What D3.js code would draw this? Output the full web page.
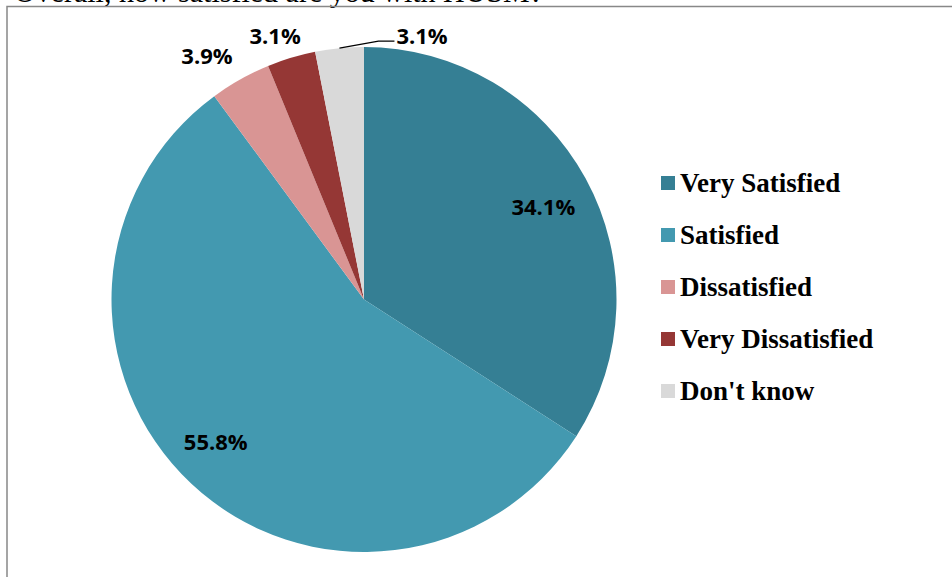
<!DOCTYPE html>
<html>
<head>
<meta charset="utf-8">
<script src="https://cdn.jsdelivr.net/npm/d3@7"></script>
<style>
  body { margin: 0; background: #fff; }
  svg { display: block; }
</style>
</head>
<body>
<svg id="chart" width="952" height="577"></svg>
<script>
// data
const categories = ['Very Satisfied', 'Satisfied', 'Dissatisfied', 'Very Dissatisfied', "Don't know"];
const values = [34.1, 55.8, 3.9, 3.1, 3.1];
const colors = ['#357f94', '#4399b0', '#d99594', '#953735', '#d9d9d9'];
const title = 'Overall, how satisfied are you with HUSM?';

const svg = d3.select('#chart');
const width = 952, height = 577;

// question text, cut off at the very top like the source
svg.append('text')
  .attr('x', 14)
  .attr('y', 2)
  .style('font-family', '"Liberation Serif", "Times New Roman", serif')
  .style('font-size', '30px')
  .attr('fill', '#000')
  .text(title);

// chart frame
svg.append('path')
  .attr('d', `M7,${height} L7,6.5 L${width},6.5`)
  .attr('fill', 'none')
  .attr('stroke', '#888')
  .attr('stroke-width', 1.5);

const cx = 364, cy = 299.5, r = 252.5;
const g = svg.append('g').attr('transform', `translate(${cx},${cy})`);

const pie = d3.pie().sort(null).value(d => d.value);
const data = categories.map((c, i) => ({ name: c, value: values[i], color: colors[i] }));
const arcs = pie(data);

const arc = d3.arc().innerRadius(0).outerRadius(r);
g.selectAll('path.slice')
  .data(arcs)
  .join('path')
  .attr('class', 'slice')
  .attr('d', arc)
  .attr('fill', d => d.data.color);

// labels: big slices inside, small ones outside
const inner = d3.arc().innerRadius(r * 0.8).outerRadius(r * 0.8);
const outer = d3.arc().innerRadius(r * 1.14).outerRadius(r * 1.14);
const edge = d3.arc().innerRadius(r).outerRadius(r);
// small nudges so labels sit where the original put them
const nudge = [[2, 5], [-10, -4], [-16, 8], [-6, 12], [0, 0]];

const labelFont = '"Open Sans", "Noto Sans", sans-serif';
arcs.forEach((d, i) => {
  const small = d.data.value < 10;
  let [x, y] = small ? outer.centroid(d) : inner.centroid(d);
  x += nudge[i][0]; y += nudge[i][1];
  let anchor = 'middle';
  if (i === arcs.length - 1) {
    // last slice: label pushed right with a leader line
    const [ex, ey] = edge.centroid(d);
    const lx = ex + 55, ly = ey - 7;
    g.append('polyline')
      .attr('points', `${ex},${ey} ${ex + 39},${ly} ${lx},${ly}`)
      .attr('fill', 'none')
      .attr('stroke', '#000')
      .attr('stroke-width', 1.2);
    x = lx + 2; y = ly - 5;
    anchor = 'start';
  }
  g.append('text')
    .attr('x', x)
    .attr('y', y)
    .attr('text-anchor', anchor)
    .attr('dy', '0.35em')
    .style('font-family', labelFont)
    .style('font-weight', 'bold')
    .style('font-size', '22px')
    .attr('fill', '#000')
    .text(d.data.value.toFixed(1) + '%');
});

// legend
const legend = svg.append('g').attr('transform', 'translate(661,183)');
const rows = legend.selectAll('g')
  .data(data)
  .join('g')
  .attr('transform', (d, i) => `translate(0,${i * 52})`);
rows.append('rect')
  .attr('x', 0).attr('y', -7)
  .attr('width', 14).attr('height', 14)
  .attr('fill', d => d.color);
rows.append('text')
  .attr('x', 19)
  .attr('dy', '0.35em')
  .style('font-family', '"Liberation Serif", "Times New Roman", serif')
  .style('font-weight', 'bold')
  .style('font-size', '27px')
  .attr('fill', '#000')
  .text(d => d.name);
</script>
</body>
</html>
